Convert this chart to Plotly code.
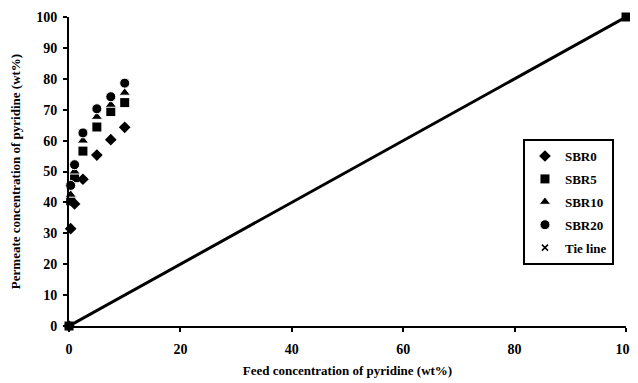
import plotly.graph_objects as go

sbr0_x = [0, 0.3, 1, 2.5, 5, 7.5, 10]
sbr0_y = [0, 31.5, 39.5, 47.5, 55.3, 60.3, 64.3]
sbr5_x = [0, 0.3, 1, 2.5, 5, 7.5, 10, 100]
sbr5_y = [0, 40.5, 48, 56.6, 64.4, 69.4, 72.3, 100]
sbr10_x = [0.3, 1, 2.5, 5, 7.5, 10]
sbr10_y = [42.5, 50, 60, 67.7, 71.6, 75.5]
sbr20_x = [0.3, 1, 2.5, 5, 7.5, 10]
sbr20_y = [45.5, 52.2, 62.5, 70.3, 74.2, 78.6]
tie_x = [0, 100]
tie_y = [0, 100]
x_ticks = [0, 20, 40, 60, 80, 100]
y_ticks = [0, 10, 20, 30, 40, 50, 60, 70, 80, 90, 100]

FONT = "Liberation Serif"

fig = go.Figure()
fig.add_trace(go.Scatter(x=tie_x, y=tie_y, mode="lines", line=dict(color="black", width=3),
                         showlegend=False, cliponaxis=False))
series = [
    ("SBR0", sbr0_x, sbr0_y, "diamond", 9),
    ("SBR5", sbr5_x, sbr5_y, "square", 9),
    ("SBR10", sbr10_x, sbr10_y, "triangle-up", 10),
    ("SBR20", sbr20_x, sbr20_y, "circle", 10),
]
for name, xs, ys, sym, sz in series:
    fig.add_trace(go.Scatter(x=xs, y=ys, mode="markers", name=f"<b>{name}</b>", legendgroup=name,
                             marker=dict(symbol=sym, size=sz, color="black",
                                         line=dict(color="white", width=1 if sym in ("circle", "triangle-up") else 0)),
                             cliponaxis=False))
fig.add_trace(go.Scatter(x=[None], y=[None], mode="markers", name="<b>Tie line</b>", legendgroup="tie",
                         marker=dict(symbol="x-thin", size=6, color="black", line=dict(color="black", width=1.5))))

tickfont = dict(family=FONT, size=14, color="black")
fig.update_layout(
    width=630, height=375,
    margin=dict(l=61, r=12, t=9, b=57),
    paper_bgcolor="white", plot_bgcolor="white",
    font=dict(family=FONT, size=13, color="black"),
    showlegend=True,
    legend=dict(x=0.815, y=0.605, xanchor="left", yanchor="top",
                bordercolor="black", borderwidth=2, bgcolor="white",
                font=dict(family=FONT, size=13, color="black"),
                tracegroupgap=3, traceorder="grouped", itemwidth=30),
    xaxis=dict(range=[0, 100], tickvals=x_ticks, ticktext=[f"<b>{v}</b>" for v in x_ticks],
               showgrid=False, zeroline=False,
               showline=True, linecolor="black", linewidth=2, ticks="outside", ticklen=4,
               tickcolor="black", tickwidth=1.5, tickfont=tickfont, automargin=False,
               ticklabelstandoff=5,
               title=dict(text="<b>Feed concentration of pyridine (wt%)</b>",
                          font=dict(family=FONT, size=13, color="black"), standoff=10)),
    yaxis=dict(range=[0, 100], tickvals=y_ticks, ticktext=[f"<b>{v}</b>" for v in y_ticks],
               showgrid=False, zeroline=False,
               showline=True, linecolor="black", linewidth=2, ticks="outside", ticklen=4,
               tickcolor="black", tickwidth=1.5, tickfont=tickfont, automargin=False,
               ticklabelstandoff=3,
               title=dict(text="<b>Permeate concentration of pyridine (wt%)</b>",
                          font=dict(family=FONT, size=13, color="black"), standoff=20)),
)
fig.write_html("out.html")
